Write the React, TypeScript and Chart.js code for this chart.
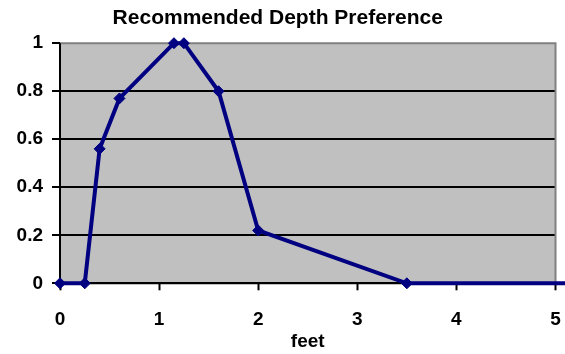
import React, { useEffect, useRef } from "react";
import { Chart, registerables } from "chart.js";

Chart.register(...registerables);

const depthFeet = [0, 0.25, 0.4, 0.6, 1.15, 1.25, 1.6, 2, 3.5, 6];
const preference = [0, 0, 0.56, 0.77, 1, 1, 0.8, 0.22, 0, 0];
const xTicks = [0, 1, 2, 3, 4, 5];
const yTicks = [0, 0.2, 0.4, 0.6, 0.8, 1];
const chartTitle = "Recommended Depth Preference";
const xTitle = "feet";

const FONT = "'Liberation Sans', Arial, Helvetica, sans-serif";

const plotBg = {
  id: "plotBg",
  beforeDraw(chart: any) {
    const { ctx, chartArea } = chart;
    ctx.save();
    ctx.fillStyle = "#C0C0C0";
    ctx.fillRect(chartArea.left, chartArea.top, chartArea.right - chartArea.left, chartArea.bottom - chartArea.top);
    ctx.restore();
  },
  beforeDatasetsDraw(chart: any) {
    const { ctx, chartArea } = chart;
    ctx.save();
    ctx.strokeStyle = "#808080";
    ctx.lineWidth = 2;
    ctx.beginPath();
    ctx.moveTo(chartArea.left, chartArea.top);
    ctx.lineTo(chartArea.right, chartArea.top);
    ctx.lineTo(chartArea.right, chartArea.bottom);
    ctx.stroke();
    ctx.strokeStyle = "#000";
    ctx.beginPath();
    ctx.moveTo(chartArea.left, chartArea.top);
    ctx.lineTo(chartArea.left, chartArea.bottom);
    ctx.lineTo(chartArea.right, chartArea.bottom);
    ctx.stroke();
    ctx.restore();
  },
};

export default function App() {
  const ref = useRef<HTMLCanvasElement>(null);
  useEffect(() => {
    if (!ref.current) return;
    const chart = new Chart(ref.current, {
      type: "line",
      data: {
        datasets: [
          {
            data: depthFeet.map((x, i) => ({ x, y: preference[i] })),
            borderColor: "#000080",
            backgroundColor: "#000080",
            borderWidth: 4,
            pointStyle: "rectRot",
            pointRadius: 5.5,
            pointBorderWidth: 1,
            pointBackgroundColor: "#000080",
            pointBorderColor: "#000080",
            tension: 0,
            clip: false,
          } as any,
        ],
      },
      options: {
        animation: false,
        responsive: false,
        maintainAspectRatio: false,
        layout: { autoPadding: false, padding: { left: 0, right: 9.5, top: 0, bottom: 0 } },
        plugins: {
          legend: { display: false },
          tooltip: { enabled: false },
          title: {
            display: true,
            text: chartTitle,
            color: "#000",
            font: { family: FONT, size: 21, weight: "bold" },
            padding: { top: 6, bottom: 12 },
          },
        },
        scales: {
          x: {
            type: "linear",
            min: 0,
            max: 5,
            afterBuildTicks: (s: any) => {
              s.ticks = xTicks.map((v) => ({ value: v }));
            },
            afterFit: (s: any) => {
              s.height = 70.7;
              s.paddingLeft = 0;
              s.paddingRight = 0;
            },
            border: { display: false },
            grid: {
              drawOnChartArea: false,
              drawTicks: true,
              tickLength: 7,
              tickColor: "#000",
              tickWidth: 2,
              color: "#000",
            },
            ticks: {
              color: "#000",
              padding: 18,
              maxRotation: 0,
              callback: (v: any) => String(v),
              font: { family: FONT, size: 19, weight: "bold" },
            },
            title: {
              display: true,
              text: xTitle,
              color: "#000",
              font: { family: FONT, size: 19, weight: "bold" },
              padding: { top: 0, bottom: 1 },
            },
          },
          y: {
            type: "linear",
            min: 0,
            max: 1,
            afterBuildTicks: (s: any) => {
              s.ticks = yTicks.map((v) => ({ value: v }));
            },
            afterFit: (s: any) => {
              s.width = 60;
              s.paddingTop = 0;
              s.paddingBottom = 0;
            },
            border: { display: false },
            grid: {
              drawOnChartArea: true,
              drawTicks: true,
              tickLength: 8,
              tickColor: "#000",
              tickWidth: 2,
              lineWidth: 2,
              color: (c: any) => (c.tick && c.tick.value === 1 ? "rgba(0,0,0,0)" : "#000"),
            },
            ticks: {
              color: "#000",
              padding: 9,
              callback: (v: any) => String(v),
              font: { family: FONT, size: 19, weight: "bold" },
            },
          },
        },
      },
      plugins: [plotBg],
    });
    return () => chart.destroy();
  }, []);
  return (
    <div style={{ position: "fixed", left: 0, top: 0, width: 565, height: 354, background: "#fff" }}>
      <canvas ref={ref} width={565} height={354} style={{ width: 565, height: 354, display: "block" }} />
    </div>
  );
}
